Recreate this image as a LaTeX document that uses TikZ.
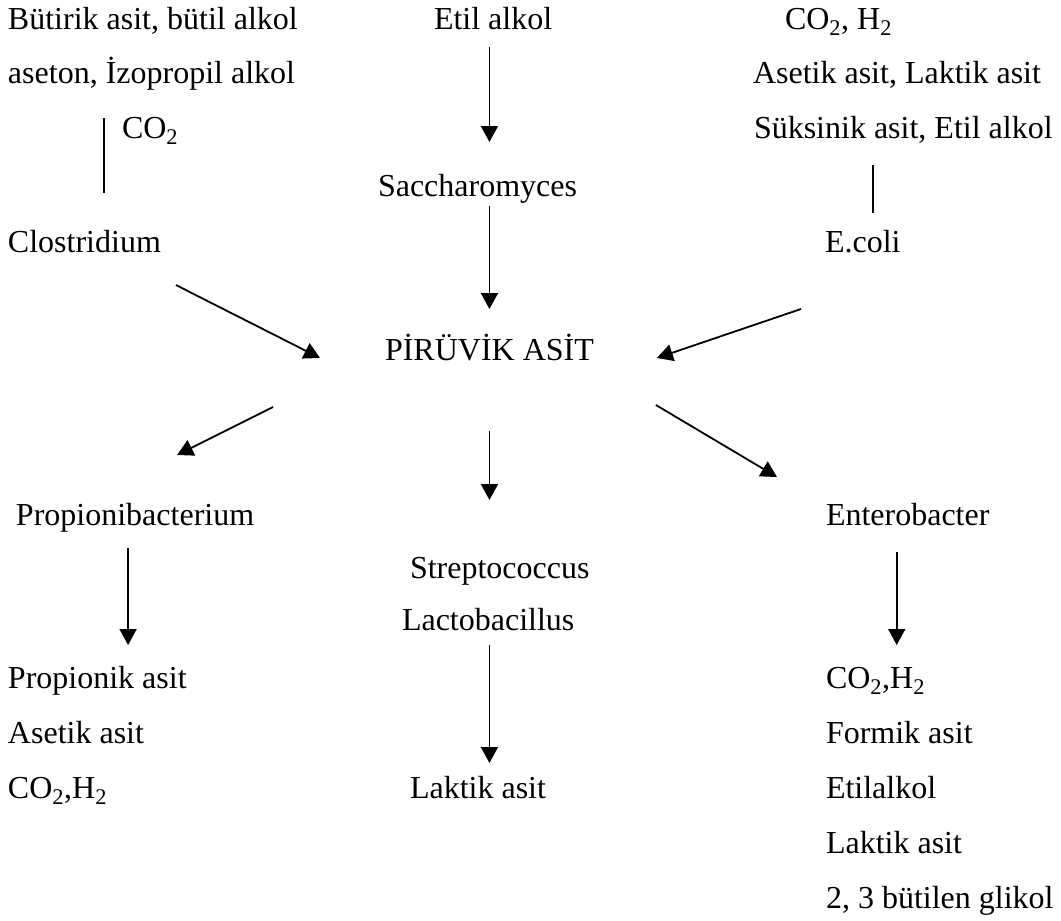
\documentclass[tikz,border=0pt]{standalone}
\usepackage{fontspec}
\setmainfont{Liberation Serif}
\usepackage{tikz}
\usetikzlibrary{calc,arrows.meta}
\tikzset{
  txtnode/.style = {inner sep=0pt, outer sep=0pt, anchor=base west, text height=22pt, text depth=7pt, font=\fontsize{32pt}{38pt}\selectfont},
  lbl_n/.style = {txtnode},
  arw_n/.style = {line width=1.8pt, -{Triangle[length=16pt,width=17pt]}},
  lin_n/.style = {line width=1.8pt}
}
\begin{document}
\begin{tikzpicture}[x=1pt,y=-1pt]
\useasboundingbox (0,0) rectangle (1061,921);
\node [lbl_n] (but) at (8,29) {Bütirik asit, bütil alkol};
\node [lbl_n] (ase) at (8,83) {aseton, İzopropil alkol};
\node [lbl_n] (co2a) at (122,138) {CO\textsubscript{2}};
\node [lbl_n] (clos) at (8,252) {Clostridium};
\node [lbl_n] (etil) at (434,29) {Etil alkol};
\node [lbl_n] (sacch) at (378,196) {Saccharomyces};
\node [lbl_n] (co2h) at (785,29) {CO\textsubscript{2}, H\textsubscript{2}};
\node [lbl_n] (asla) at (753,83) {Asetik asit, Laktik asit};
\node [lbl_n] (suks) at (754,138) {Süksinik asit, Etil alkol};
\node [lbl_n] (ecoli) at (825,252) {E.coli};
\node [lbl_n] (pyr) at (385,360) {PİRÜVİK ASİT};
\node [lbl_n] (prop) at (16,525) {Propionibacterium};
\node [lbl_n] (entero) at (826,525) {Enterobacter};
\node [lbl_n] (strep) at (410,578) {Streptococcus};
\node [lbl_n] (lacto) at (402,630) {Lactobacillus};
\node [lbl_n] (pra) at (8,688) {Propionik asit};
\node [lbl_n] (asa) at (8,743) {Asetik asit};
\node [lbl_n] (co2b) at (8,798) {CO\textsubscript{2},H\textsubscript{2}};
\node [lbl_n] (laktik) at (410,798) {Laktik asit};
\node [lbl_n] (co2c) at (826,688) {CO\textsubscript{2},H\textsubscript{2}};
\node [lbl_n] (form) at (826,743) {Formik asit};
\node [lbl_n] (etal) at (826,798) {Etilalkol};
\node [lbl_n] (lak2) at (826,853) {Laktik asit};
\node [lbl_n] (glik) at (826,908) {2, 3 bütilen glikol};

\draw [lin_n] ($(co2a.west |- ase.south)+(-18,28)$) -- ($(co2a.west |- clos.north)+(-18,-37)$);
\draw [lin_n] ($(ecoli.north |- suks.south)+(10,20)$) -- ($(ecoli.north)+(10,-17)$);
\draw [arw_n, shorten <=11pt, shorten >=32pt] (etil.south -| pyr) -- (sacch.north -| pyr);
\draw [arw_n, shorten <=3pt, shorten >=29pt] (sacch.south -| pyr) -- (pyr.north);
\draw [arw_n] ($(clos.south east)+(15,26)$) -- ($(pyr.west)+(-65,5.5)$);
\draw [arw_n] ($(ecoli.south west)+(-24,50)$) -- ($(pyr.east)+(63,5.5)$);
\draw [arw_n] ($(pyr.south west)+(-112,40)$) -- ($(prop.north)+(42,-48)$);
\draw [arw_n, shorten <=64pt, shorten >=56pt] (pyr.south) -- (strep.north -| pyr);
\draw [arw_n] ($(pyr.south east)+(62,38)$) -- ($(entero.north west)+(-49,-26)$);
\draw [arw_n] ($(prop.south)+(-7,16)$) -- ($(prop.south |- pra.north)+(-7,-21)$);
\draw [arw_n, shorten <=8pt, shorten >=13pt] (lacto.south -| pyr) -- (laktik.north -| pyr);
\draw [arw_n] ($(entero.south)+(-11,20)$) -- ($(entero.south |- co2c.north)+(-11,-21)$);
\end{tikzpicture}
\end{document}
